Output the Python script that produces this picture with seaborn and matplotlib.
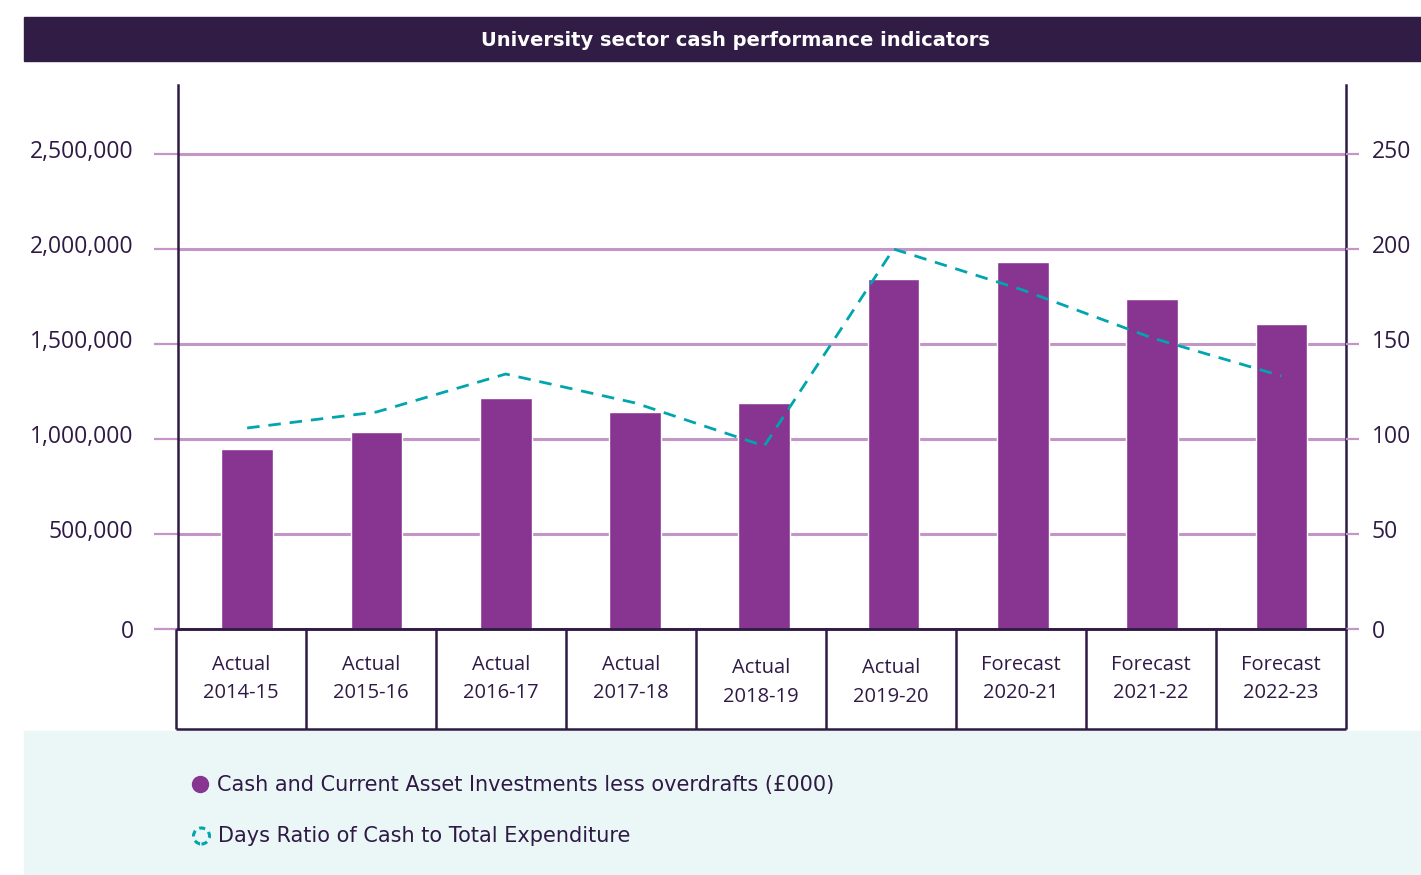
import numpy as np
import matplotlib
matplotlib.use("Agg")
import matplotlib.pyplot as plt
from matplotlib.patches import Rectangle, Ellipse
from matplotlib.lines import Line2D
from matplotlib.ticker import FuncFormatter
from matplotlib.transforms import ScaledTranslation
import seaborn as sns

# ---- data ----
periods = ["2014-15", "2015-16", "2016-17", "2017-18", "2018-19",
           "2019-20", "2020-21", "2021-22", "2022-23"]
kinds = ["Actual", "Actual", "Actual", "Actual", "Actual",
         "Actual", "Forecast", "Forecast", "Forecast"]
cash = [947000, 1037000, 1216000, 1142000, 1189000,
        1842000, 1932000, 1737000, 1605000]
days = [105.8, 114.2, 134.2, 119.0, 96.3, 200.0, 178.4, 153.2, 133.2]

left_ticks = [0, 500000, 1000000, 1500000, 2000000, 2500000]
right_ticks = [0, 50, 100, 150, 200, 250]

title = "University sector cash performance indicators"
legend_cash = "Cash and Current Asset Investments less overdrafts (£000)"
legend_days = "Days Ratio of Cash to Total Expenditure"

# ---- styling ----
DARK = "#2e1a45"
BAR = "#883592"
TEAL = "#00a5ad"
GRID = "#c395c8"
PANEL = "#ebf7f7"
FONT = ["Open Sans", "DejaVu Sans"]
WIDE = ["DejaVu Sans"]

sns.set_theme(style="white")
plt.rcParams["font.family"] = FONT

W, H = 1421, 875
fig = plt.figure(figsize=(W / 100, H / 100), dpi=100)

# title bar and legend panel
fig.add_artist(Rectangle((24 / W, 1 - 61 / H), (W - 24) / W, 44 / H,
                         transform=fig.transFigure, color="#301c45", zorder=0))
fig.text(735 / W, 1 - 40 / H, title, color="white", fontsize=14, family=WIDE,
         fontweight="bold", ha="center", va="center")
fig.add_artist(Rectangle((24 / W, 0), (W - 24) / W, 144 / H,
                         transform=fig.transFigure, color=PANEL, zorder=0))

# main axes
ax_l, ax_r, ax_top, ax_bot = 178, 1346, 85, 629
ax = fig.add_axes([ax_l / W, 1 - ax_bot / H, (ax_r - ax_l) / W, (ax_bot - ax_top) / H])
ax.set_facecolor("none")

sns.barplot(x=periods, y=cash, ax=ax, color=BAR, width=0.4, saturation=1, zorder=2)

ymax = 2500000 * (ax_bot - ax_top) / (ax_bot - 154)
xlim = (-0.535, len(periods) - 0.5)
ax.set_ylim(0, ymax)
ax.set_xlim(*xlim)
ax.set_yticks(left_ticks)
ax.yaxis.set_major_formatter(FuncFormatter(lambda v, p: f"{int(v):,}"))
ax.grid(axis="y", color=GRID, linewidth=2.2)
ax.grid(axis="x", visible=False)
ax.set_axisbelow(True)
ax.tick_params(axis="y", which="major", left=True, length=17, width=1.6,
               color=GRID, pad=15, labelsize=16.5, labelcolor=DARK)
ax.tick_params(axis="x", bottom=False, labelbottom=False)
ax.yaxis.get_major_ticks()[0].tick1line.set_color(DARK)
ax.set_xlabel("")
ax.set_ylabel("")
for side in ["left", "right", "bottom"]:
    ax.spines[side].set_color(DARK)
    ax.spines[side].set_linewidth(1.8)
ax.spines["top"].set_visible(False)

# days ratio on twin axis
ax2 = ax.twinx()
sns.lineplot(x=np.arange(len(periods)), y=days, ax=ax2, color=TEAL,
             linewidth=2.0, linestyle=(0, (4.5, 3.2)), zorder=3)
ax2.set_ylim(0, 250 * (ax_bot - ax_top) / (ax_bot - 154))
ax2.set_xlim(*xlim)
ax2.set_yticks(right_ticks)
ax2.tick_params(axis="y", right=True, length=9.5, width=1.6, color=GRID,
                pad=9, labelsize=16.5, labelcolor=DARK)
ax2.yaxis.get_major_ticks()[0].tick2line.set_color("#8a8096")
ax2.set_ylabel("")
for side in ["left", "right", "top", "bottom"]:
    ax2.spines[side].set_visible(False)

# labels sit a little above their gridlines (except zero)
up = ScaledTranslation(0, 5 / 100, fig.dpi_scale_trans)
fig.canvas.draw()
for a in (ax, ax2):
    for lab in a.get_yticklabels()[1:]:
        lab.set_transform(lab.get_transform() + up)

# category table under the axes
tab = fig.add_axes([176 / W, 1 - 729 / H, (ax_r - 176) / W, 100 / H])
tab.set_facecolor("none")
tab.set_xlim(-0.5, len(periods) - 0.5)
tab.set_ylim(0, 1)
tab.axis("off")
tab.vlines(np.arange(len(periods) + 1) - 0.5, 0, 1, color=DARK, linewidth=1.8,
           clip_on=False)
tab.hlines([0, 1], -0.5, len(periods) - 0.5, color=DARK, linewidth=1.8, clip_on=False)
shift = {"2018-19": -0.035, "2019-20": -0.035}
for i, (k, p) in enumerate(zip(kinds, periods)):
    tab.text(i, 0.5 + shift.get(p, 0), f"{k}\n{p}", ha="center", va="center",
             fontsize=14.5, color=DARK, linespacing=1.6)

# legend
fig.add_artist(Line2D([200.5 / W], [1 - 784 / H], marker="o", markersize=11.5,
                      color=BAR, linestyle="none", transform=fig.transFigure))
fig.text(217 / W, 1 - 785 / H, legend_cash, fontsize=15, color=DARK, va="center",
         family=WIDE)
fig.add_artist(Ellipse((201.5 / W, 1 - 836 / H), 16 / W, 16 / H, transform=fig.transFigure,
                       facecolor="none", edgecolor=TEAL, linewidth=2.2,
                       linestyle=(0, (2, 1.5))))
fig.text(218 / W, 1 - 836 / H, legend_days, fontsize=15, color=DARK, va="center",
         family=WIDE)

fig.savefig("out.png", dpi=100)
